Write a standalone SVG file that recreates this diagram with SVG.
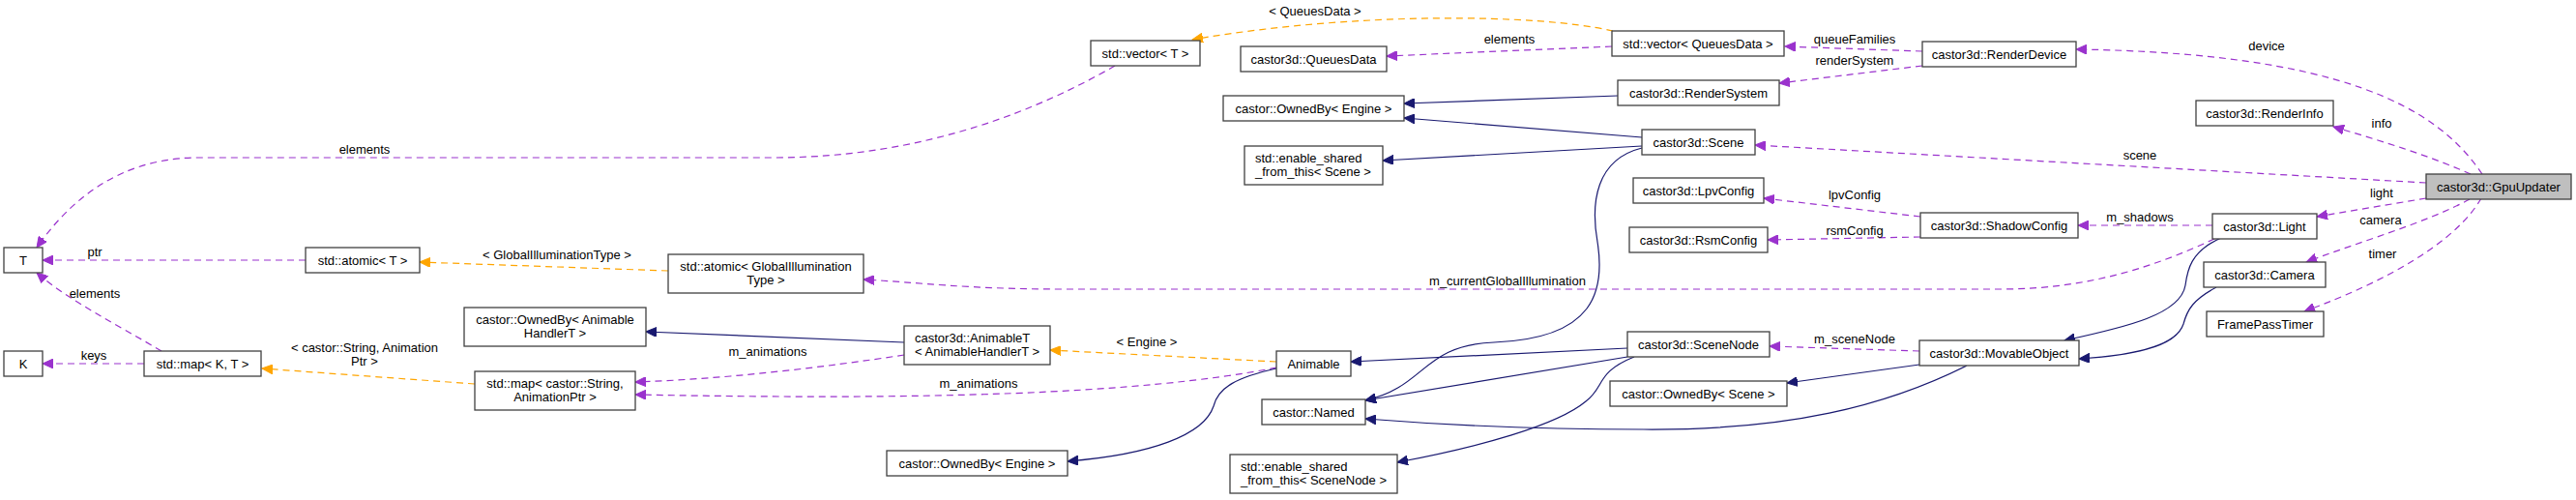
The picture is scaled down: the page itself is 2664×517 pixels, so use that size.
<svg xmlns="http://www.w3.org/2000/svg" width="2664" height="517" viewBox="0 0 2664 517">
<style>
.n rect{fill:#ffffff;stroke:#404040;stroke-width:1.3}
.n.hl rect{fill:#bfbfbf}
text{font-family:"Liberation Sans",Arial,sans-serif;font-size:13px;fill:#000}
.c{text-anchor:middle}
.u{fill:none;stroke:#9a32cd;stroke-width:1.2;stroke-dasharray:7,5;marker-end:url(#ap)}
.t{fill:none;stroke:#ffa500;stroke-width:1.2;stroke-dasharray:7,5;marker-end:url(#ao)}
.i{fill:none;stroke:#191970;stroke-width:1.2;marker-end:url(#ab)}
</style>
<defs>
<marker id="ap" markerUnits="userSpaceOnUse" markerWidth="12" markerHeight="10" refX="11" refY="5" orient="auto"><path d="M0,0 L11,5 L0,10 z" fill="#9a32cd" stroke="#9a32cd"/></marker>
<marker id="ao" markerUnits="userSpaceOnUse" markerWidth="12" markerHeight="10" refX="11" refY="5" orient="auto"><path d="M0,0 L11,5 L0,10 z" fill="#ffa500" stroke="#ffa500"/></marker>
<marker id="ab" markerUnits="userSpaceOnUse" markerWidth="12" markerHeight="10" refX="11" refY="5" orient="auto"><path d="M0,0 L11,5 L0,10 z" fill="#191970" stroke="#191970"/></marker>
</defs>
<rect width="2664" height="517" fill="#ffffff"/>
<g id="edges">
<path class="u" d="M2567,180 C2520,110 2420,55 2147,51"/>
<path class="u" d="M2555,180 C2510,160 2460,145 2413,131"/>
<path class="u" d="M2509,189 L1815,150"/>
<path class="u" d="M2509,205 L2396,224"/>
<path class="u" d="M2554,206 C2510,230 2440,250 2385,271"/>
<path class="u" d="M2566,205 C2540,250 2470,290 2383,322"/>
<path class="u" d="M1988,53 L1846,48"/>
<path class="u" d="M1988,68 L1840,86"/>
<path class="u" d="M1667,48 L1434,58"/>
<path class="t" d="M1668,32 C1590,14 1400,12 1233,41"/>
<path class="u" d="M1153,68 C1080,110 960,163 800,163 L200,163 C120,165 70,210 38,256"/>
<path class="u" d="M1986,224 L1824,205"/>
<path class="u" d="M1986,245 L1828,248"/>
<path class="u" d="M2288,233 L2149,233"/>
<path class="u" d="M2290,247 C2230,275 2160,299 2070,299 L1100,299 C1000,299 950,292 893,289"/>
<path class="t" d="M691,280 L434,271"/>
<path class="u" d="M316,269 L44,269"/>
<path class="u" d="M167,363 C120,335 70,310 38,282"/>
<path class="u" d="M149,376 L44,376"/>
<path class="t" d="M491,397 L271,381"/>
<path class="u" d="M935,367 C850,380 750,392 657,395"/>
<path class="u" d="M1320,380 C1180,408 950,414 657,408"/>
<path class="t" d="M1320,374 L1086,362"/>
<path class="u" d="M1985,363 L1830,358"/>
<path class="i" d="M1673,99 L1452,107"/>
<path class="i" d="M1698,142 L1452,122"/>
<path class="i" d="M1698,151 L1430,166"/>
<path class="i" d="M1698,153 C1650,165 1645,210 1652,250 C1660,300 1650,350 1545,354 C1470,357 1475,400 1412,414"/>
<path class="i" d="M1683,360 L1397,374"/>
<path class="i" d="M1683,369 L1412,414"/>
<path class="i" d="M1690,369 C1650,385 1660,400 1640,415 C1610,440 1530,462 1445,478"/>
<path class="i" d="M1985,377 L1848,396"/>
<path class="i" d="M2034,378 C1950,420 1850,445 1700,444 C1600,444 1500,440 1412,433"/>
<path class="i" d="M2297,246 C2265,260 2262,280 2260,295 C2255,325 2200,338 2135,352"/>
<path class="i" d="M2292,297 C2268,310 2262,320 2258,335 C2250,360 2200,368 2150,371"/>
<path class="i" d="M1320,381 C1280,390 1260,400 1255,420 C1245,450 1190,470 1104,477"/>
<path class="i" d="M935,354 L668,343"/>
</g>
<g id="edge-labels">
<text class="c" x="1360" y="16">&lt; QueuesData &gt;</text>
<text class="c" x="1561" y="45">elements</text>
<text class="c" x="1918" y="45">queueFamilies</text>
<text class="c" x="1918" y="67">renderSystem</text>
<text class="c" x="2344" y="52">device</text>
<text class="c" x="2463" y="132">info</text>
<text class="c" x="2213" y="165">scene</text>
<text class="c" x="2463" y="204">light</text>
<text class="c" x="2213" y="229">m_shadows</text>
<text class="c" x="2462" y="232">camera</text>
<text class="c" x="2464" y="267">timer</text>
<text class="c" x="1918" y="206">lpvConfig</text>
<text class="c" x="1918" y="243">rsmConfig</text>
<text class="c" x="1559" y="295">m_currentGlobalIllumination</text>
<text class="c" x="1918" y="355">m_sceneNode</text>
<text class="c" x="377" y="159">elements</text>
<text class="c" x="98" y="265">ptr</text>
<text class="c" x="576" y="268">&lt; GlobalIlluminationType &gt;</text>
<text class="c" x="98" y="308">elements</text>
<text class="c" x="97" y="372">keys</text>
<text class="c" x="377" y="364">&lt; castor::String, Animation</text>
<text class="c" x="377" y="378">Ptr &gt;</text>
<text class="c" x="794" y="368">m_animations</text>
<text class="c" x="1186" y="358">&lt; Engine &gt;</text>
<text class="c" x="1012" y="401">m_animations</text>
</g>
<g id="n_gpuupdater" class="n hl"><rect x="2509" y="180" width="150" height="26"/><text class="c" x="2584" y="197.5">castor3d::GpuUpdater</text></g>
<g id="n_renderdevice" class="n"><rect x="1988" y="43" width="159" height="26"/><text class="c" x="2067.5" y="60.5">castor3d::RenderDevice</text></g>
<g id="n_renderinfo" class="n"><rect x="2271" y="104" width="142" height="26"/><text class="c" x="2342" y="121.5">castor3d::RenderInfo</text></g>
<g id="n_scene" class="n"><rect x="1698" y="134" width="117" height="26"/><text class="c" x="1756.5" y="151.5">castor3d::Scene</text></g>
<g id="n_light" class="n"><rect x="2288" y="221" width="108" height="26"/><text class="c" x="2342" y="238.5">castor3d::Light</text></g>
<g id="n_camera" class="n"><rect x="2279" y="271" width="126" height="26"/><text class="c" x="2342" y="288.5">castor3d::Camera</text></g>
<g id="n_framepasstimer" class="n"><rect x="2282" y="322" width="121" height="26"/><text class="c" x="2342.5" y="339.5">FramePassTimer</text></g>
<g id="n_shadowconfig" class="n"><rect x="1986" y="220" width="163" height="26"/><text class="c" x="2067.5" y="237.5">castor3d::ShadowConfig</text></g>
<g id="n_movableobject" class="n"><rect x="1985" y="352" width="165" height="26"/><text class="c" x="2067.5" y="369.5">castor3d::MovableObject</text></g>
<g id="n_vector_queuesdata" class="n"><rect x="1667" y="32" width="178" height="26"/><text class="c" x="1756" y="49.5">std::vector&lt; QueuesData &gt;</text></g>
<g id="n_rendersystem" class="n"><rect x="1673" y="83" width="167" height="26"/><text class="c" x="1756.5" y="100.5">castor3d::RenderSystem</text></g>
<g id="n_lpvconfig" class="n"><rect x="1689" y="184" width="135" height="26"/><text class="c" x="1756.5" y="201.5">castor3d::LpvConfig</text></g>
<g id="n_rsmconfig" class="n"><rect x="1685" y="235" width="143" height="26"/><text class="c" x="1756.5" y="252.5">castor3d::RsmConfig</text></g>
<g id="n_scenenode" class="n"><rect x="1683" y="343" width="147" height="26"/><text class="c" x="1756.5" y="360.5">castor3d::SceneNode</text></g>
<g id="n_ownedby_scene" class="n"><rect x="1665" y="394" width="183" height="26"/><text class="c" x="1756.5" y="411.5">castor::OwnedBy&lt; Scene &gt;</text></g>
<g id="n_queuesdata" class="n"><rect x="1283" y="48" width="151" height="26"/><text class="c" x="1358.5" y="65.5">castor3d::QueuesData</text></g>
<g id="n_ownedby_engine_top" class="n"><rect x="1265" y="99" width="187" height="26"/><text class="c" x="1358.5" y="116.5">castor::OwnedBy&lt; Engine &gt;</text></g>
<g id="n_enable_shared_scene" class="n"><rect x="1287" y="151" width="143" height="40"/><text x="1298" y="168">std::enable_shared</text><text x="1298" y="182">_from_this&lt; Scene &gt;</text></g>
<g id="n_vector_t" class="n"><rect x="1128" y="42" width="113" height="26"/><text class="c" x="1184.5" y="59.5">std::vector&lt; T &gt;</text></g>
<g id="n_atomic_git" class="n"><rect x="691" y="263" width="202" height="40"/><text class="c" x="792" y="280">std::atomic&lt; GlobalIllumination</text><text class="c" x="792" y="294">Type &gt;</text></g>
<g id="n_animable" class="n"><rect x="1320" y="363" width="77" height="26"/><text class="c" x="1358.5" y="380.5">Animable</text></g>
<g id="n_named" class="n"><rect x="1305" y="413" width="107" height="26"/><text class="c" x="1358.5" y="430.5">castor::Named</text></g>
<g id="n_enable_shared_scenenode" class="n"><rect x="1272" y="470" width="173" height="40"/><text x="1283" y="487">std::enable_shared</text><text x="1283" y="501">_from_this&lt; SceneNode &gt;</text></g>
<g id="n_animablet" class="n"><rect x="935" y="337" width="151" height="40"/><text x="946" y="354">castor3d::AnimableT</text><text x="946" y="368">&lt; AnimableHandlerT &gt;</text></g>
<g id="n_ownedby_engine_bottom" class="n"><rect x="917" y="466" width="187" height="26"/><text class="c" x="1010.5" y="483.5">castor::OwnedBy&lt; Engine &gt;</text></g>
<g id="n_ownedby_animablehandler" class="n"><rect x="480" y="318" width="188" height="40"/><text class="c" x="574" y="335">castor::OwnedBy&lt; Animable</text><text class="c" x="574" y="349">HandlerT &gt;</text></g>
<g id="n_map_string_animation" class="n"><rect x="491" y="384" width="166" height="40"/><text class="c" x="574" y="401">std::map&lt; castor::String,</text><text class="c" x="574" y="415">AnimationPtr &gt;</text></g>
<g id="n_atomic_t" class="n"><rect x="316" y="256" width="118" height="26"/><text class="c" x="375" y="273.5">std::atomic&lt; T &gt;</text></g>
<g id="n_map_k_t" class="n"><rect x="149" y="363" width="121" height="26"/><text class="c" x="209.5" y="380.5">std::map&lt; K, T &gt;</text></g>
<g id="n_t" class="n"><rect x="4" y="256" width="40" height="26"/><text class="c" x="24" y="273.5">T</text></g>
<g id="n_k" class="n"><rect x="4" y="363" width="40" height="26"/><text class="c" x="24" y="380.5">K</text></g>
</svg>
